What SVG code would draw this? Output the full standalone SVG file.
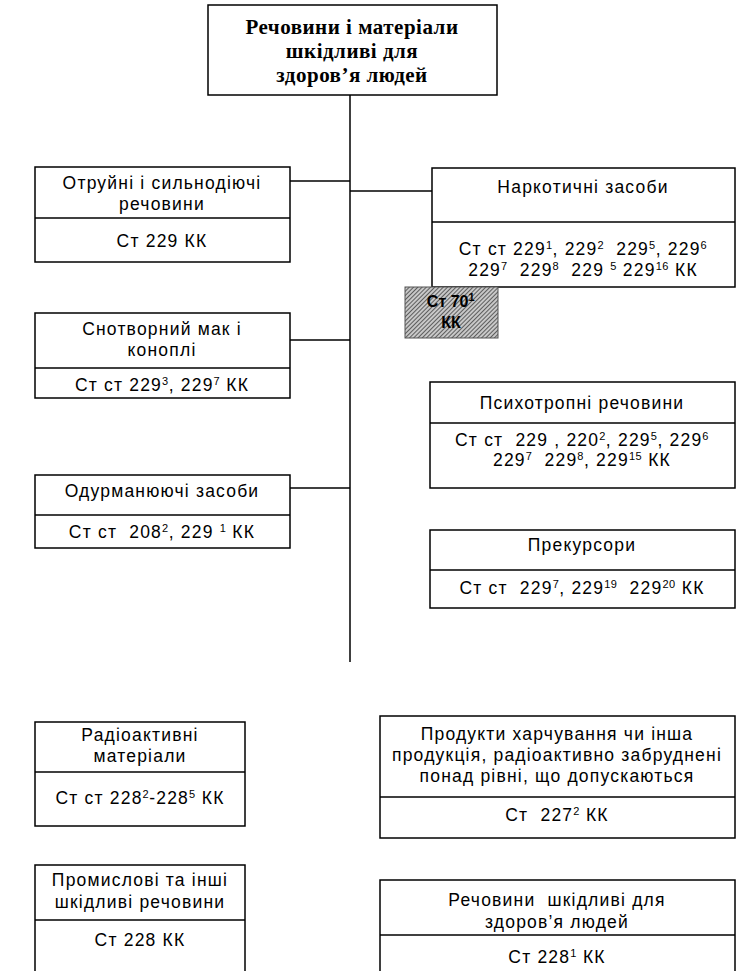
<svg xmlns="http://www.w3.org/2000/svg" width="737" height="971" viewBox="0 0 737 971">
<defs>
<pattern id="hatch" patternUnits="userSpaceOnUse" width="3" height="3" patternTransform="rotate(45)">
<rect width="3" height="3" fill="#c8c8c8"/>
<line x1="0" y1="0" x2="0" y2="3" stroke="#222" stroke-width="1.3"/>
</pattern>
<style>
.box{fill:#fff;stroke:#000;stroke-width:1.5}
.div{stroke:#000;stroke-width:1.5}
.t{font-family:"Liberation Sans",Arial,sans-serif;font-size:17.5px;letter-spacing:1.2px;fill:#000;text-anchor:middle}
.title{font-family:"Liberation Serif","Times New Roman",serif;font-size:21px;letter-spacing:0.5px;font-weight:bold;fill:#000;text-anchor:middle}
.hb{font-family:"Liberation Sans",Arial,sans-serif;font-size:16px;font-weight:bold;fill:#000;text-anchor:middle}
.s{font-size:11px;baseline-shift:super;letter-spacing:0.5px}
.conn{stroke:#000;stroke-width:1.5;fill:none}
</style>
</defs>
<rect width="737" height="971" fill="#fff"/>

<g id="connectors">
<line class="conn" x1="350" y1="95" x2="350" y2="662"/>
<line class="conn" x1="290" y1="181" x2="350" y2="181"/>
<line class="conn" x1="350" y1="191" x2="432" y2="191"/>
<line class="conn" x1="290" y1="340" x2="350" y2="340"/>
<line class="conn" x1="290" y1="488" x2="350" y2="488"/>
</g>

<g id="root">
<rect class="box" x="208" y="5" width="289" height="90"/>
<text class="title" x="352" y="34">Речовини і матеріали</text>
<text class="title" x="352" y="58">шкідливі для</text>
<text class="title" x="352" y="82">здоров’я людей</text>
</g>

<g id="otruini">
<rect class="box" x="35" y="167" width="255" height="95"/>
<line class="div" x1="35" y1="218" x2="290" y2="218"/>
<text class="t" x="162" y="189">Отруйні і сильнодіючі</text>
<text class="t" x="162" y="210">речовини</text>
<text class="t" x="162" y="247">Ст 229 КК</text>
</g>

<g id="narkotychni">
<rect class="box" x="432" y="168" width="303" height="119"/>
<line class="div" x1="432" y1="222" x2="735" y2="222"/>
<text class="t" x="583" y="193">Наркотичні засоби</text>
<text class="t" x="583" y="255" xml:space="preserve">Ст ст 229<tspan class="s">1</tspan>, 229<tspan class="s">2</tspan>  229<tspan class="s">5</tspan>, 229<tspan class="s">6</tspan></text>
<text class="t" x="583" y="276" xml:space="preserve">229<tspan class="s">7</tspan>  229<tspan class="s">8</tspan>  229 <tspan class="s">5</tspan> 229<tspan class="s">16</tspan> КК</text>
</g>

<g id="st70">
<rect x="405" y="287" width="93" height="51" fill="url(#hatch)" stroke="#555" stroke-width="1"/>
<text class="hb" x="451" y="307">Ст 70<tspan class="s">1</tspan></text>
<text class="hb" x="451" y="328">КК</text>
</g>

<g id="snotvornyi">
<rect class="box" x="35" y="313" width="255" height="85"/>
<line class="div" x1="35" y1="368" x2="290" y2="368"/>
<text class="t" x="162" y="335">Снотворний мак і</text>
<text class="t" x="162" y="356">коноплі</text>
<text class="t" x="162" y="391">Ст ст 229<tspan class="s">3</tspan>, 229<tspan class="s">7</tspan> КК</text>
</g>

<g id="psykhotropni">
<rect class="box" x="430" y="382" width="305" height="106"/>
<line class="div" x1="430" y1="423" x2="735" y2="423"/>
<text class="t" x="582" y="409">Психотропні речовини</text>
<text class="t" x="582" y="446" xml:space="preserve">Ст ст  229 , 220<tspan class="s">2</tspan>, 229<tspan class="s">5</tspan>, 229<tspan class="s">6</tspan></text>
<text class="t" x="582" y="466" xml:space="preserve">229<tspan class="s">7</tspan>  229<tspan class="s">8</tspan>, 229<tspan class="s">15</tspan> КК</text>
</g>

<g id="odurmaniuiuchi">
<rect class="box" x="35" y="475" width="255" height="73"/>
<line class="div" x1="35" y1="515" x2="290" y2="515"/>
<text class="t" x="162" y="497">Одурманюючі засоби</text>
<text class="t" x="162" y="538" xml:space="preserve">Ст ст  208<tspan class="s">2</tspan>, 229 <tspan class="s">1</tspan> КК</text>
</g>

<g id="prekursory">
<rect class="box" x="430" y="530" width="305" height="78"/>
<line class="div" x1="430" y1="570" x2="735" y2="570"/>
<text class="t" x="582" y="551">Прекурсори</text>
<text class="t" x="582" y="594" xml:space="preserve">Ст ст  229<tspan class="s">7</tspan>, 229<tspan class="s">19</tspan>  229<tspan class="s">20</tspan> КК</text>
</g>

<g id="radioaktyvni">
<rect class="box" x="35" y="722" width="210" height="104"/>
<line class="div" x1="35" y1="772" x2="245" y2="772"/>
<text class="t" x="140" y="741">Радіоактивні</text>
<text class="t" x="140" y="762">матеріали</text>
<text class="t" x="140" y="804">Ст ст 228<tspan class="s">2</tspan>-228<tspan class="s">5</tspan> КК</text>
</g>

<g id="produkty">
<rect class="box" x="380" y="716" width="355" height="122"/>
<line class="div" x1="380" y1="797" x2="735" y2="797"/>
<text class="t" x="557" y="740">Продукти харчування чи інша</text>
<text class="t" x="557" y="761">продукція, радіоактивно забруднені</text>
<text class="t" x="557" y="782">понад рівні, що допускаються</text>
<text class="t" x="557" y="821" xml:space="preserve">Ст  227<tspan class="s">2</tspan> КК</text>
</g>

<g id="promyslovi">
<rect class="box" x="35" y="865" width="210" height="110"/>
<line class="div" x1="35" y1="920" x2="245" y2="920"/>
<text class="t" x="140" y="886">Промислові та інші</text>
<text class="t" x="140" y="908">шкідливі речовини</text>
<text class="t" x="140" y="946">Ст 228 КК</text>
</g>

<g id="rechovyny">
<rect class="box" x="380" y="880" width="355" height="95"/>
<line class="div" x1="380" y1="935" x2="735" y2="935"/>
<text class="t" x="557" y="906" xml:space="preserve">Речовини  шкідливі для</text>
<text class="t" x="557" y="928">здоров’я людей</text>
<text class="t" x="557" y="963">Ст 228<tspan class="s">1</tspan> КК</text>
</g>
</svg>
